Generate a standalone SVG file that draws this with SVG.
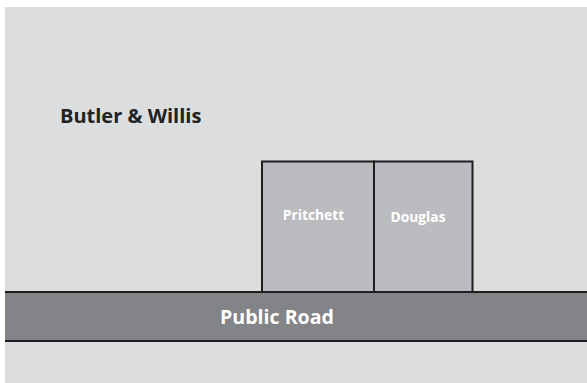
<svg xmlns="http://www.w3.org/2000/svg" width="587" height="383" viewBox="0 0 587 383">
<style>
.lbl{font-family:"Open Sans","Liberation Sans",sans-serif;font-weight:bold;fill:#ffffff}
.plot{fill:#bbbcbf;stroke:#1e1e1e;stroke-width:2}
</style>
<rect x="0" y="0" width="587" height="383" fill="#ffffff"/>
<rect x="5" y="7" width="582" height="376" fill="#dcdddf"/>
<g id="butler-willis">
<text x="60" y="123" font-family="'Open Sans','Liberation Sans',sans-serif" font-weight="bold" font-size="20" fill="#222222">Butler &amp; Willis</text>
</g>
<g id="pritchett">
<rect class="plot" x="262" y="161.5" width="112" height="131"/>
<text class="lbl" x="313.5" y="219.5" font-size="13.8" text-anchor="middle">Pritchett</text>
</g>
<g id="douglas">
<rect class="plot" x="374" y="161.5" width="98.5" height="131"/>
<text class="lbl" x="418" y="221.5" font-size="13.8" text-anchor="middle">Douglas</text>
</g>
<g id="public-road">
<rect x="5" y="292" width="582" height="49" fill="#838487"/>
<line x1="5" y1="292" x2="587" y2="292" stroke="#1e1e1e" stroke-width="2"/>
<line x1="5" y1="341" x2="587" y2="341" stroke="#1e1e1e" stroke-width="2"/>
<text class="lbl" x="277" y="323.5" font-size="19.6" text-anchor="middle">Public Road</text>
</g>
<g id="connectors"/>
</svg>
